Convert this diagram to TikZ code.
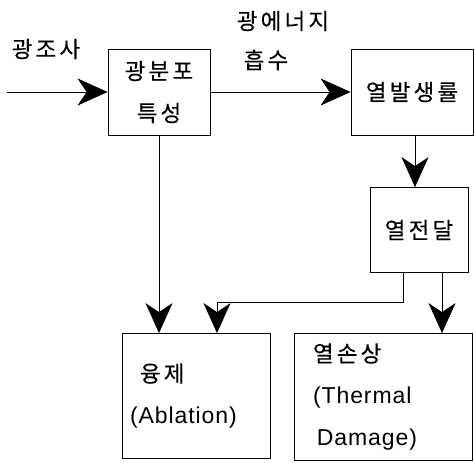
\documentclass[tikz,border=0pt]{standalone}
\usepackage{fontspec}
\newfontfamily\kr[LetterSpace=14, FakeBold=0.35]{Noto Sans CJK KR}
\newfontfamily\lt[LetterSpace=4]{Liberation Sans}
\usetikzlibrary{arrows.meta}
\tikzset{
  box/.style={draw, line width=.8pt, inner sep=0pt},
  arr/.style={line width=.8pt, -{Stealth[length=30pt, width=27pt, inset=9pt]}},
  txt/.style={font=\kr\fontsize{22.5}{42}\selectfont}
}
\begin{document}
\begin{tikzpicture}[x=1pt, y=-1pt]
    \useasboundingbox (0, 0) rectangle (474, 463);
% boxes
\node[box, txt, minimum width=102, minimum height=86, align=center] (dist) at (159, 92) {광분포\\특성};
\node[box, txt, minimum width=122, minimum height=86] (heat) at (412, 92) {열발생률};
\node[box, txt, minimum width=98, minimum height=85] (trans) at (419, 230) {열전달};
\node[box, txt, minimum width=144, minimum height=125, align=left, text width=132, inner xsep=8pt] (abl) at (196, 396) {\hspace{10pt}융제\\{\lt\fontsize{23}{42}\selectfont(Ablation)}};
\node[box, txt, minimum width=178, minimum height=127, align=left, text width=140, inner xsep=19pt] (dmg) at (383, 397) {열손상\\{\lt\fontsize{23}{42}\selectfont(Thermal}\\{\lt\fontsize{23}{42}\selectfont\,Damage)}};
% labels
\node[txt] (light) at (46, 49) {광조사};
\node[txt] (energy) at (283, 21) {광에너지};
\node[txt] (absorb) at (266, 60) {흡수};
\coordinate (in) at (7, 92);
% arrows
\draw[arr] (in) -- (dist.west);
\draw[arr] (dist.east) -- (heat.west);
\draw[arr] ([xshift=3pt]heat.south) -- ([xshift=3pt]heat.south |- trans.north);
\draw[arr] ([xshift=-16pt]trans.south) |- ([xshift=21pt, yshift=31pt]abl.north) -- ([xshift=21pt]abl.north);
\draw[arr] ([xshift=23pt]trans.south) -- ([xshift=23pt]trans.south |- dmg.north);
\draw[arr] (dist.south) -- (dist.south |- abl.north);
    \end{tikzpicture}
\end{document}
